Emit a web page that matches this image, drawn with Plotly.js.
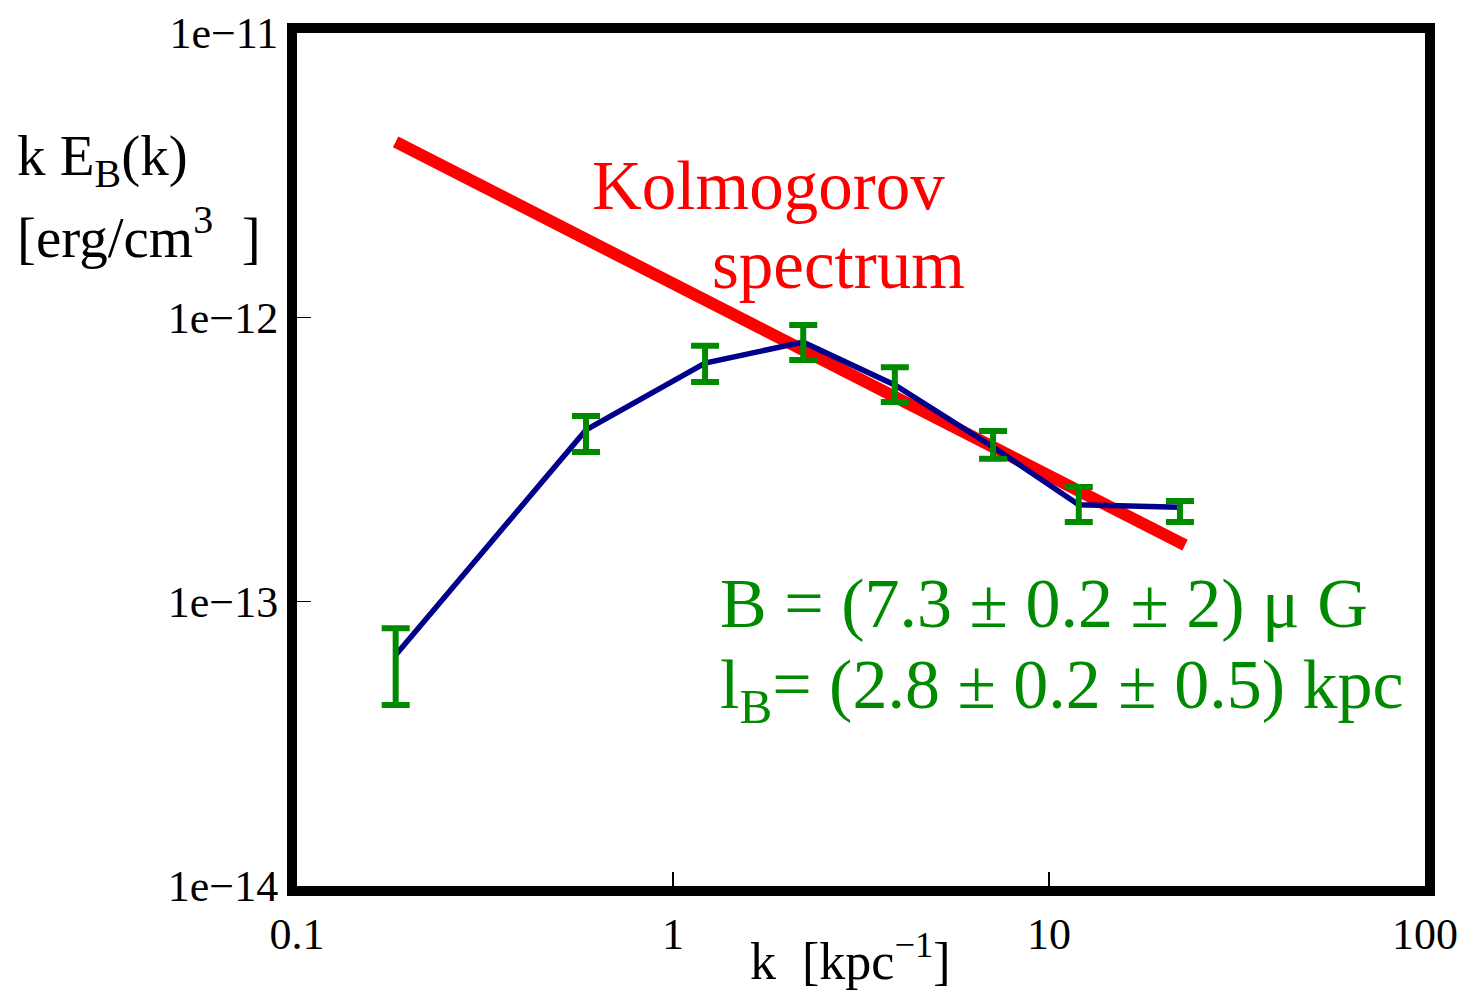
<!DOCTYPE html>
<html>
<head>
<meta charset="utf-8">
<script src="https://cdn.plot.ly/plotly-3.0.1.min.js"></script>
<style>html,body{margin:0;padding:0;background:#fff;}#chart{width:1470px;height:993px;}</style>
</head>
<body>
<div id="chart"></div>
<script>
// Measured spectrum k E_B(k)
const kValues = [0.183, 0.587, 1.217, 2.22, 3.89, 7.10, 12.0, 22.3];
const spectrum = [6.49e-14, 4.02e-13, 6.91e-13, 8.18e-13, 5.78e-13, 3.50e-13, 2.19e-13, 2.15e-13];
const errUp = [1.58e-14, 0.48e-13, 1.04e-13, 1.22e-13, 0.90e-13, 0.48e-13, 0.34e-13, 0.11e-13];
const errDown = [2.16e-14, 0.66e-13, 0.99e-13, 1.10e-13, 0.74e-13, 0.32e-13, 0.285e-13, 0.245e-13];

// Kolmogorov reference line (k^-2/3)
const kolK = [0.183, 23.0];
const kolE = [4.14e-12, 1.58e-13];

// Tick labels
const xTickVals = [0.1, 1, 10, 100];
const xTickText = ["0.1", "1", "10", "100"];
const yTickVals = [1e-14, 1e-13, 1e-12, 1e-11];
const yTickText = ["1e\u221214", "1e\u221213", "1e\u221212", "1e\u221211"];

const FONT = "Liberation Serif, Times New Roman, serif";
const GREEN = "#008a00";

const traces = [
  {x: kolK, y: kolE, mode: "lines", line: {color: "#ff0000", width: 12}, hoverinfo: "skip"},
  {x: kValues, y: spectrum, mode: "lines", line: {color: "#00008b", width: 5.5}},
  {x: kValues, y: spectrum, mode: "markers",
   marker: {size: 1, color: "rgba(0,0,0,0)"},
   error_y: {type: "data", symmetric: false, array: errUp, arrayminus: errDown,
             color: GREEN, thickness: 6, width: 14}}
];

const W = 1470, H = 993;
const L = 297, R = 1425, T = 33, B = 886;
function px(x) { return (x - L) / (R - L); }
function py(y) { return (B - y) / (B - T); }

const layout = {
  width: W, height: H,
  margin: {l: L, r: W - R, t: T, b: H - B, pad: 0},
  paper_bgcolor: "#fff", plot_bgcolor: "#fff",
  showlegend: false,
  font: {family: FONT, color: "#000"},
  xaxis: {
    type: "log", range: [-1, 2],
    tickmode: "array", tickvals: xTickVals, ticktext: xTickText,
    ticks: "inside", ticklen: 14, tickwidth: 1.5, tickcolor: "#000",
    showline: true, linewidth: 10, linecolor: "#000", mirror: true,
    showgrid: false, zeroline: false,
    tickfont: {family: FONT, size: 44, color: "#000"}
  },
  yaxis: {
    type: "log", range: [-14, -11],
    tickmode: "array", tickvals: yTickVals, ticktext: yTickText,
    ticks: "inside", ticklen: 14, tickwidth: 1.5, tickcolor: "#000",
    showline: true, linewidth: 10, linecolor: "#000", mirror: true,
    showgrid: false, zeroline: false,
    tickfont: {family: FONT, size: 44, color: "#000"}
  },
  annotations: [
    {xref: "paper", yref: "paper", x: px(15), y: py(160), xanchor: "left", yanchor: "middle",
     text: "k E<sub>B</sub>(k)", showarrow: false, font: {family: FONT, size: 57, color: "#000"}},
    {xref: "paper", yref: "paper", x: px(15), y: py(233), xanchor: "left", yanchor: "middle",
     text: "[erg/cm<sup>3</sup>\u00a0\u00a0]", showarrow: false, font: {family: FONT, size: 57, color: "#000"}},
    {xref: "paper", yref: "paper", x: px(850), y: py(957), xanchor: "center", yanchor: "middle",
     text: "k\u00a0\u00a0[kpc<sup>\u22121</sup>]", showarrow: false, font: {family: FONT, size: 52, color: "#000"}},
    {xref: "paper", yref: "paper", x: px(768), y: py(186), xanchor: "center", yanchor: "middle",
     text: "Kolmogorov", showarrow: false, font: {family: FONT, size: 69, color: "#ff0000"}},
    {xref: "paper", yref: "paper", x: px(838), y: py(265), xanchor: "center", yanchor: "middle",
     text: "spectrum", showarrow: false, font: {family: FONT, size: 69, color: "#ff0000"}},
    {xref: "paper", yref: "paper", x: px(718), y: py(603), xanchor: "left", yanchor: "middle",
     text: "B = (7.3 \u00b1 0.2 \u00b1 2) \u03bc G", showarrow: false, font: {family: FONT, size: 70, color: GREEN}},
    {xref: "paper", yref: "paper", x: px(718), y: py(690), xanchor: "left", yanchor: "middle",
     text: "l<sub>B</sub>= (2.8 \u00b1 0.2 \u00b1 0.5) kpc", showarrow: false, font: {family: FONT, size: 70, color: GREEN}}
  ]
};

Plotly.newPlot("chart", traces, layout, {displayModeBar: false, staticPlot: true});
</script>
</body>
</html>
